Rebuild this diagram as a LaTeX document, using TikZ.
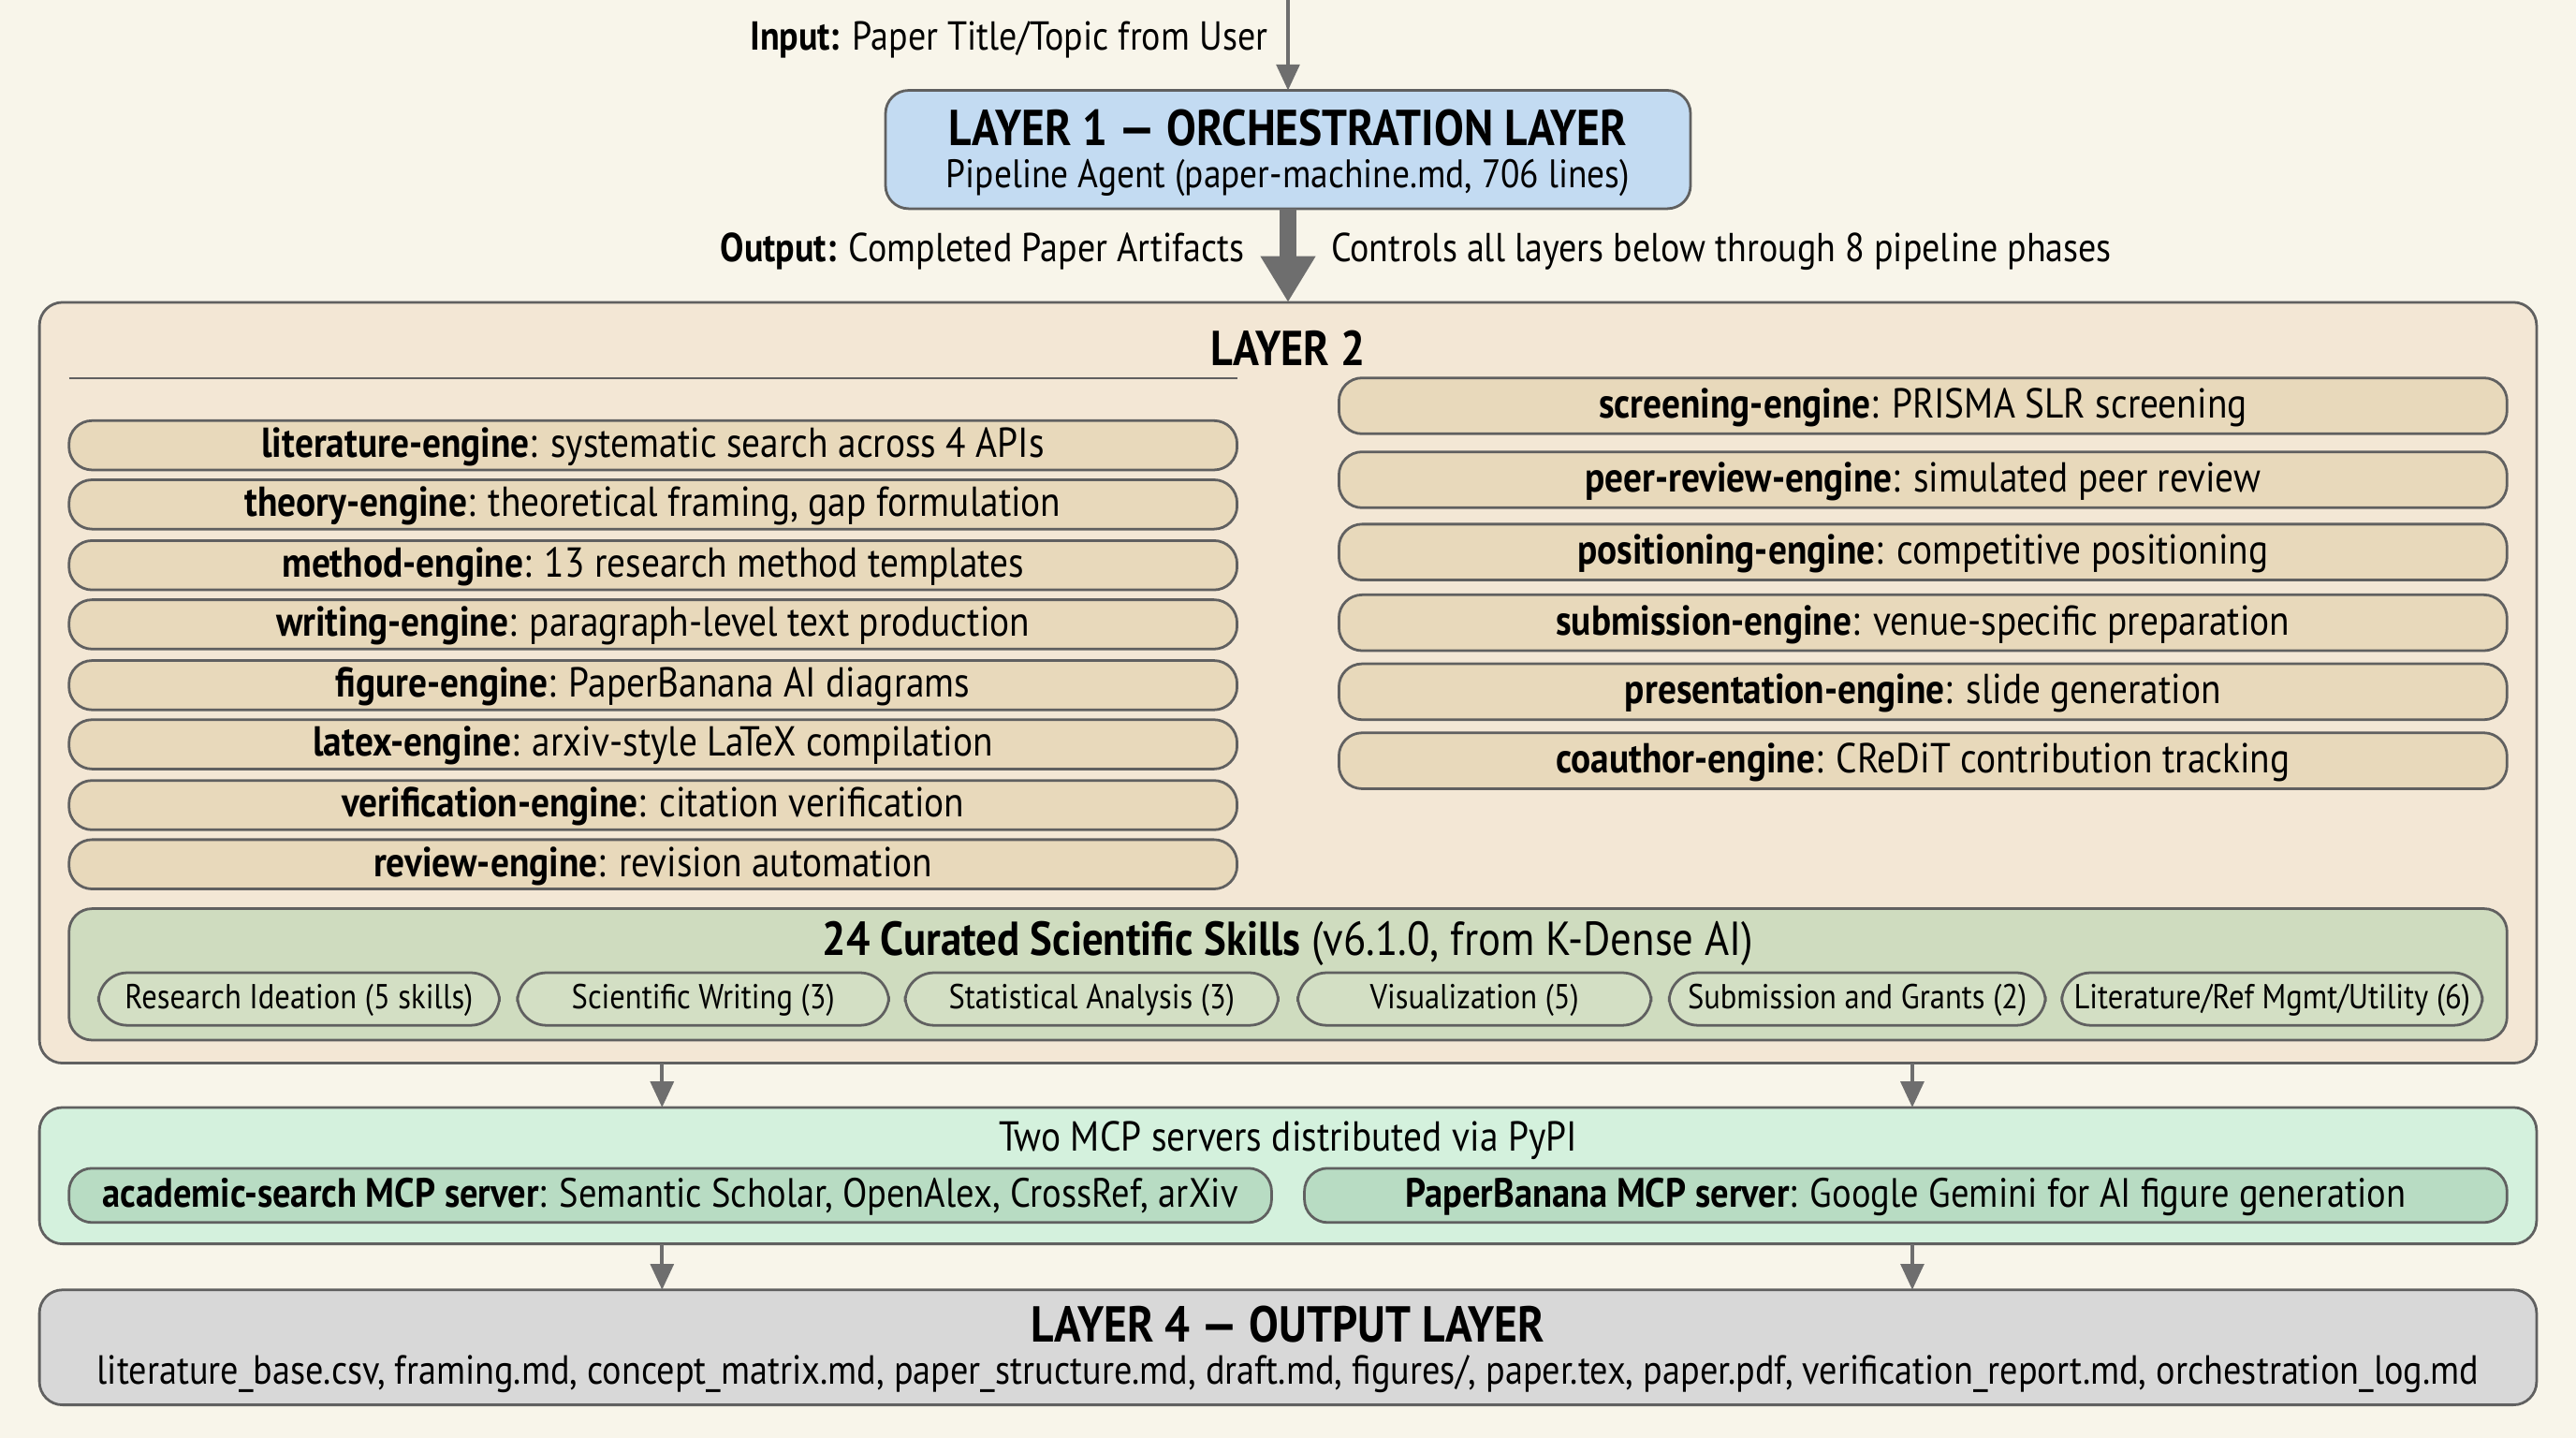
\documentclass[tikz,border=0pt]{standalone}
\usepackage{fontspec}
\setmainfont[FakeStretch=0.88]{PT Sans}
\usetikzlibrary{arrows.meta}
\definecolor{bg}{HTML}{F8F5EA}
\definecolor{lone}{HTML}{C3DBF2}
\definecolor{ltwo}{HTML}{F3E7D5}
\definecolor{eng}{HTML}{E8D9BB}
\definecolor{skl}{HTML}{CFDCBF}
\definecolor{pill}{HTML}{D3DFC4}
\definecolor{lthree}{HTML}{D4F1DD}
\definecolor{srv}{HTML}{B8DCC3}
\definecolor{lfour}{HTML}{D8D8D8}
\definecolor{edge}{HTML}{606060}
\definecolor{arr}{HTML}{6E6E6E}
\tikzset{
  x=0.02cm,y=-0.02cm,
  box/.style={draw=edge,line width=0.9pt,rounded corners=8pt,inner sep=0pt},
  txt/.style={inner sep=0pt,font=\fontsize{14.5}{16}\selectfont,text=black},
  ttl/.style={inner sep=0pt,font=\fontsize{17.5}{19}\selectfont\bfseries,text=black},
  smallarr/.style={draw=arr,line width=1.3pt,-{Triangle[length=9pt,width=8pt]}},
}
\begin{document}
\begin{tikzpicture}
\fill[bg] (0,0) rectangle (1568,875);
\useasboundingbox (0,0) rectangle (1568,875);
% Layer 1
\draw[box,fill=lone] (539,55) rectangle (1029,127);
\node[ttl] (l1t) at (784,78) {LAYER 1 — ORCHESTRATION LAYER};
\node[txt,font=\fontsize{13.8}{15}\selectfont] (l1s) at (784,108) {Pipeline Agent (paper-machine.md, 706 lines)};
\coordinate (top) at (784,0);
\coordinate (l1top) at (784,55);
\coordinate (l1bot) at (784,127);
\draw[smallarr] (top) -- (l1top);
\node[txt,anchor=east,font=\fontsize{14}{16}\selectfont] (inp) at (772,24) {\textbf{Input:} Paper Title/Topic from User};
% Layer 2
\draw[box,fill=ltwo] (24,184) rectangle (1544,647);
\coordinate (l2top) at (784,184);
\draw[draw=arr,line width=6pt,-{Triangle[length=16pt,width=18pt]}] (l1bot) -- (l2top);
\node[txt,anchor=east,font=\fontsize{14}{16}\selectfont] (outp) at (758,153) {\textbf{Output:} Completed Paper Artifacts};
\node[txt,anchor=west,font=\fontsize{14}{16}\selectfont] (ctrl) at (810,153) {Controls all layers below through 8 pipeline phases};
\node[ttl,font=\fontsize{17}{19}\selectfont\bfseries] (l2t) at (784,212) {LAYER 2};
\coordinate (ruleA) at (42,230); \coordinate (ruleB) at (753,230);
\draw[edge,line width=0.7pt] (ruleA) -- (ruleB);
\foreach \y/\a/\b [count=\i] in {271/literature-engine/systematic search across 4 APIs,
  307/theory-engine/theoretical framing{,} gap formulation,
  344/method-engine/13 research method templates,
  380/writing-engine/paragraph-level text production,
  417/figure-engine/PaperBanana AI diagrams,
  453/latex-engine/arxiv-style LaTeX compilation,
  490/verification-engine/citation verification,
  526/review-engine/revision automation}{
  \draw[box,fill=eng] (42,\y-15) rectangle (753,\y+15);
  \node[txt] (le\i) at (397.5,\y+1) {\textbf{\a}: \b};
}
\foreach \y/\a/\b [count=\i] in {247/screening-engine/PRISMA SLR screening,
  292/peer-review-engine/simulated peer review,
  336/positioning-engine/competitive positioning,
  379/submission-engine/venue-specific preparation,
  421/presentation-engine/slide generation,
  463/coauthor-engine/CReDiT contribution tracking}{
  \draw[box,fill=eng] (815,\y-17) rectangle (1526,\y+17);
  \node[txt] (re\i) at (1170.5,\y+1) {\textbf{\a}: \b};
}
% skills
\draw[box,fill=skl] (42,553) rectangle (1526,633);
\node[txt,font=\fontsize{16.5}{18}\selectfont] (skt) at (784,574) {\textbf{24 Curated Scientific Skills} (v6.1.0, from K-Dense AI)};
\foreach \xa/\xb/\t [count=\i] in {60/304/{Research Ideation (5 skills)},
  315/541/{Scientific Writing (3)},
  551/778/{Statistical Analysis (3)},
  790/1005/{Visualization (5)},
  1016/1245/{Submission and Grants (2)},
  1255/1511/{Literature/Ref Mgmt/Utility (6)}}{
  \draw[box,fill=pill,rounded corners=10pt] (\xa,592) rectangle (\xb,624);
  \node[txt,font=\fontsize{12}{14}\selectfont] (sk\i) at ({(\xa+\xb)/2},609) {\t};
}
% Layer 3
\draw[box,fill=lthree] (24,674) rectangle (1544,757);
\coordinate (a1) at (403,647); \coordinate (b1) at (403,674);
\coordinate (a2) at (1164,647); \coordinate (b2) at (1164,674);
\draw[smallarr] (a1) -- (b1);
\draw[smallarr] (a2) -- (b2);
\node[txt,font=\fontsize{14.5}{16}\selectfont] (l3t) at (784,694) {Two MCP servers distributed via PyPI};
\draw[box,fill=srv] (42,711) rectangle (774,744);
\node[txt,font=\fontsize{14.2}{16}\selectfont] (s1) at (408,728.5) {\textbf{academic-search MCP server}: Semantic Scholar, OpenAlex, CrossRef, arXiv};
\draw[box,fill=srv] (794,711) rectangle (1526,744);
\node[txt,font=\fontsize{14.2}{16}\selectfont] (s2) at (1160,728.5) {\textbf{PaperBanana MCP server}: Google Gemini for AI figure generation};
% Layer 4
\draw[box,fill=lfour] (24,785) rectangle (1544,855);
\coordinate (c1) at (403,757); \coordinate (d1) at (403,785);
\coordinate (c2) at (1164,757); \coordinate (d2) at (1164,785);
\draw[smallarr] (c1) -- (d1);
\draw[smallarr] (c2) -- (d2);
\node[ttl] (l4t) at (784,806) {LAYER 4 — OUTPUT LAYER};
\node[txt,font=\fontsize{14.1}{16}\selectfont] (l4s) at (784,836) {literature\_base.csv, framing.md, concept\_matrix.md, paper\_structure.md, draft.md, figures/, paper.tex, paper.pdf, verification\_report.md, orchestration\_log.md};
\end{tikzpicture}
\end{document}
